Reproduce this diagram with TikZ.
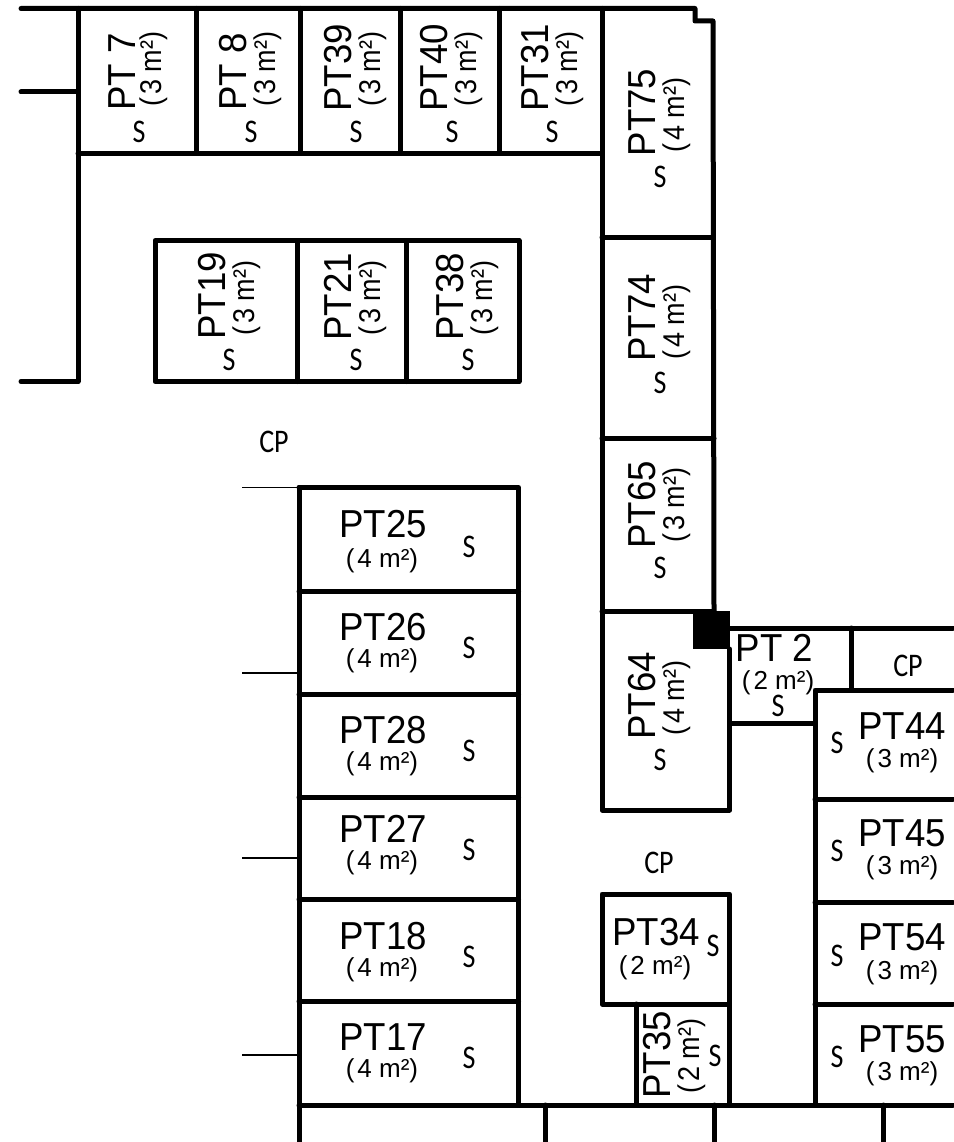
\documentclass[tikz,border=0pt]{standalone}
\usepackage{fontspec}
\setmainfont{Liberation Sans}
\newfontfamily\cadfont[FakeStretch=0.85]{Carlito}
\newfontfamily\tallfont[FakeStretch=0.9]{Liberation Sans}
\newfontfamily\lotfont[FakeStretch=0.94]{Liberation Sans}
\newcommand{\sqmarea}[1]{(\kern3pt#1 m²)}
\usepackage{tikz}

\begin{document}
\begin{tikzpicture}[
    x=1pt, y=-1pt,
    wall/.style={line width=5pt, line cap=round, line join=round},
    thinwall/.style={line width=1.5pt},
    lot/.style={inner sep=0pt, font=\lotfont\fontsize{39}{39}\selectfont},
    area/.style={inner sep=0pt, font=\fontsize{26}{26}\selectfont},
    lotv/.style={lot, rotate=90},
    areav/.style={inner sep=0pt, rotate=90, font=\tallfont\fontsize{30}{30}\selectfont},
    tag/.style={inner sep=0pt, font=\cadfont\fontsize{33}{33}\selectfont}]

    \useasboundingbox (0, 0) rectangle (953, 1142);

    % Outer walls, top row
    \draw[wall] (21, 8.5) -- (695, 8.5) -- (695, 21) -- (713, 21) -- (714, 611);
    \draw[wall] (78, 8.5) -- (78, 381.5) -- (21, 381.5);
    \draw[wall] (21, 92) -- (78, 92);
    \draw[wall] (78, 153.5) -- (602, 153.5);
    \draw[wall] (196, 8.5) -- (196, 153.5);
    \draw[wall] (300, 8.5) -- (300, 153.5);
    \draw[wall] (400, 8.5) -- (400, 153.5);
    \draw[wall] (499, 8.5) -- (499, 153.5);

    % Right column
    \draw[wall] (602, 8.5) -- (602, 810) -- (729.5, 810) -- (729.5, 649);
    \draw[wall] (602, 237) -- (713, 237);
    \draw[wall] (602, 438) -- (714, 438);
    \draw[wall] (602, 611.5) -- (714, 611.5);

    % Pillar
    \fill[black] (693, 611) rectangle (730, 649);

    % Middle block
    \draw[wall] (155, 240.5) rectangle (519, 381.5);
    \draw[wall] (297, 240.5) -- (297, 381.5);
    \draw[wall] (406.5, 240.5) -- (406.5, 381.5);

    % Lower left block
    \draw[wall] (299, 487.5) -- (518.5, 487.5) -- (518.5, 1105);
    \draw[wall] (299, 487.5) -- (299, 1142);
    \draw[wall] (299, 591.5) -- (518.5, 591.5);
    \draw[wall] (299, 694.5) -- (518.5, 694.5);
    \draw[wall] (299, 797) -- (518.5, 797);
    \draw[wall] (299, 899) -- (518.5, 899);
    \draw[wall] (299, 1001) -- (518.5, 1001);

    % Thin stubs
    \draw[thinwall] (242, 487.5) -- (299, 487.5);
    \draw[thinwall] (242, 673) -- (299, 673);
    \draw[thinwall] (242, 858) -- (299, 858);
    \draw[thinwall] (242, 1055) -- (299, 1055);

    % Lower right block
    \draw[wall] (730, 628) -- (953, 628);
    \draw[wall] (851, 628) -- (851, 690);
    \draw[wall] (953, 690) -- (815, 690) -- (815, 1105);
    \draw[wall] (729.5, 723) -- (815, 723);
    \draw[wall] (815, 799) -- (953, 799);
    \draw[wall] (815, 902.5) -- (953, 902.5);
    \draw[wall] (815, 1004) -- (953, 1004);

    % PT34 and PT35
    \draw[wall] (602, 894) rectangle (729.5, 1004);
    \draw[wall] (636, 1004) -- (636, 1105);
    \draw[wall] (729.5, 1004) -- (729.5, 1105);

    % Bottom wall
    \draw[wall] (299, 1105) -- (953, 1105);
    \draw[wall] (545, 1105) -- (545, 1142);
    \draw[wall] (714.5, 1105) -- (714.5, 1142);
    \draw[wall] (883.5, 1105) -- (883.5, 1142);

    % Top row labels
    \node[lotv] (pt7) at (122, 72) {PT 7};
    \node[areav] (a7) at (154, 69) {\sqmarea{3}};
    \node[tag] (s7) at (139, 132) {S};
    \node[lotv] (pt8) at (233, 72) {PT 8};
    \node[areav] (a8) at (268, 69) {\sqmarea{3}};
    \node[tag] (s8) at (251, 132) {S};
    \node[lotv] (pt39) at (338, 68) {PT39};
    \node[areav] (a39) at (373, 69) {\sqmarea{3}};
    \node[tag] (s39) at (356, 132) {S};
    \node[lotv] (pt40) at (434.5, 68) {PT40};
    \node[areav] (a40) at (469, 69) {\sqmarea{3}};
    \node[tag] (s40) at (452, 132) {S};
    \node[lotv] (pt31) at (535, 68) {PT31};
    \node[areav] (a31) at (570, 69) {\sqmarea{3}};
    \node[tag] (s31) at (552, 132) {S};

    % Right column labels
    \node[lotv] (pt75) at (642, 112.5) {PT75};
    \node[areav] (a75) at (677, 115) {\sqmarea{4}};
    \node[tag] (s75) at (660, 177) {S};
    \node[lotv] (pt74) at (642, 318) {PT74};
    \node[areav] (a74) at (677, 322) {\sqmarea{4}};
    \node[tag] (s74) at (660, 383) {S};
    \node[lotv] (pt65) at (642, 505) {PT65};
    \node[areav] (a65) at (677, 505) {\sqmarea{3}};
    \node[tag] (s65) at (660, 568) {S};
    \node[lotv] (pt64) at (642.5, 696) {PT64};
    \node[areav] (a64) at (677, 698) {\sqmarea{4}};
    \node[tag] (s64) at (660, 760) {S};

    % Middle block labels
    \node[lotv] (pt19) at (212, 296) {PT19};
    \node[areav] (a19) at (247, 298) {\sqmarea{3}};
    \node[tag] (s19) at (229, 360) {S};
    \node[lotv] (pt21) at (337.5, 297) {PT21};
    \node[areav] (a21) at (373, 298) {\sqmarea{3}};
    \node[tag] (s21) at (356, 360) {S};
    \node[lotv] (pt38) at (450, 297) {PT38};
    \node[areav] (a38) at (485, 298) {\sqmarea{3}};
    \node[tag] (s38) at (468, 360) {S};

    % Lower left labels
    \node[tag] (cpa) at (274, 442) {CP};
    \node[lot] (pt25) at (383, 524) {PT25};
    \node[area] (a25) at (382, 561) {\sqmarea{4}};
    \node[tag] (s25) at (469, 547) {S};
    \node[lot] (pt26) at (383, 627) {PT26};
    \node[area] (a26) at (382, 661) {\sqmarea{4}};
    \node[tag] (s26) at (469, 648) {S};
    \node[lot] (pt28) at (383, 730) {PT28};
    \node[area] (a28) at (382, 764) {\sqmarea{4}};
    \node[tag] (s28) at (469, 751) {S};
    \node[lot] (pt27) at (383, 829) {PT27};
    \node[area] (a27) at (382, 863) {\sqmarea{4}};
    \node[tag] (s27) at (469, 850) {S};
    \node[lot] (pt18) at (383, 936) {PT18};
    \node[area] (a18) at (382, 970) {\sqmarea{4}};
    \node[tag] (s18) at (469, 957) {S};
    \node[lot] (pt17) at (383, 1037) {PT17};
    \node[area] (a17) at (382, 1071) {\sqmarea{4}};
    \node[tag] (s17) at (469, 1058) {S};

    % Lower right labels
    \node[lot] (pt2) at (774.5, 648) {PT 2};
    \node[area] (a2) at (778, 683) {\sqmarea{2}};
    \node[tag] (s2) at (778, 706) {S};
    \node[tag] (cpb) at (908, 666) {CP};
    \node[lot] (pt44) at (902, 726) {PT44};
    \node[area] (a44) at (902, 761) {\sqmarea{3}};
    \node[tag] (s44) at (837, 743) {S};
    \node[lot] (pt45) at (902, 833) {PT45};
    \node[area] (a45) at (902, 868) {\sqmarea{3}};
    \node[tag] (s45) at (837, 851) {S};
    \node[lot] (pt54) at (902, 937) {PT54};
    \node[area] (a54) at (902, 973) {\sqmarea{3}};
    \node[tag] (s54) at (837, 956) {S};
    \node[lot] (pt55) at (902, 1039) {PT55};
    \node[area] (a55) at (902, 1074) {\sqmarea{3}};
    \node[tag] (s55) at (837, 1057) {S};

    % PT34 and PT35 labels
    \node[tag] (cpc) at (659, 863) {CP};
    \node[lot] (pt34) at (656, 932) {PT34};
    \node[area] (a34) at (655, 968) {\sqmarea{2}};
    \node[tag] (s34) at (713, 946) {S};
    \node[lotv] (pt35) at (657, 1055) {PT35};
    \node[areav] (a35) at (692, 1056) {\sqmarea{2}};
    \node[tag] (s35) at (715, 1056) {S};

\end{tikzpicture}
\end{document}
